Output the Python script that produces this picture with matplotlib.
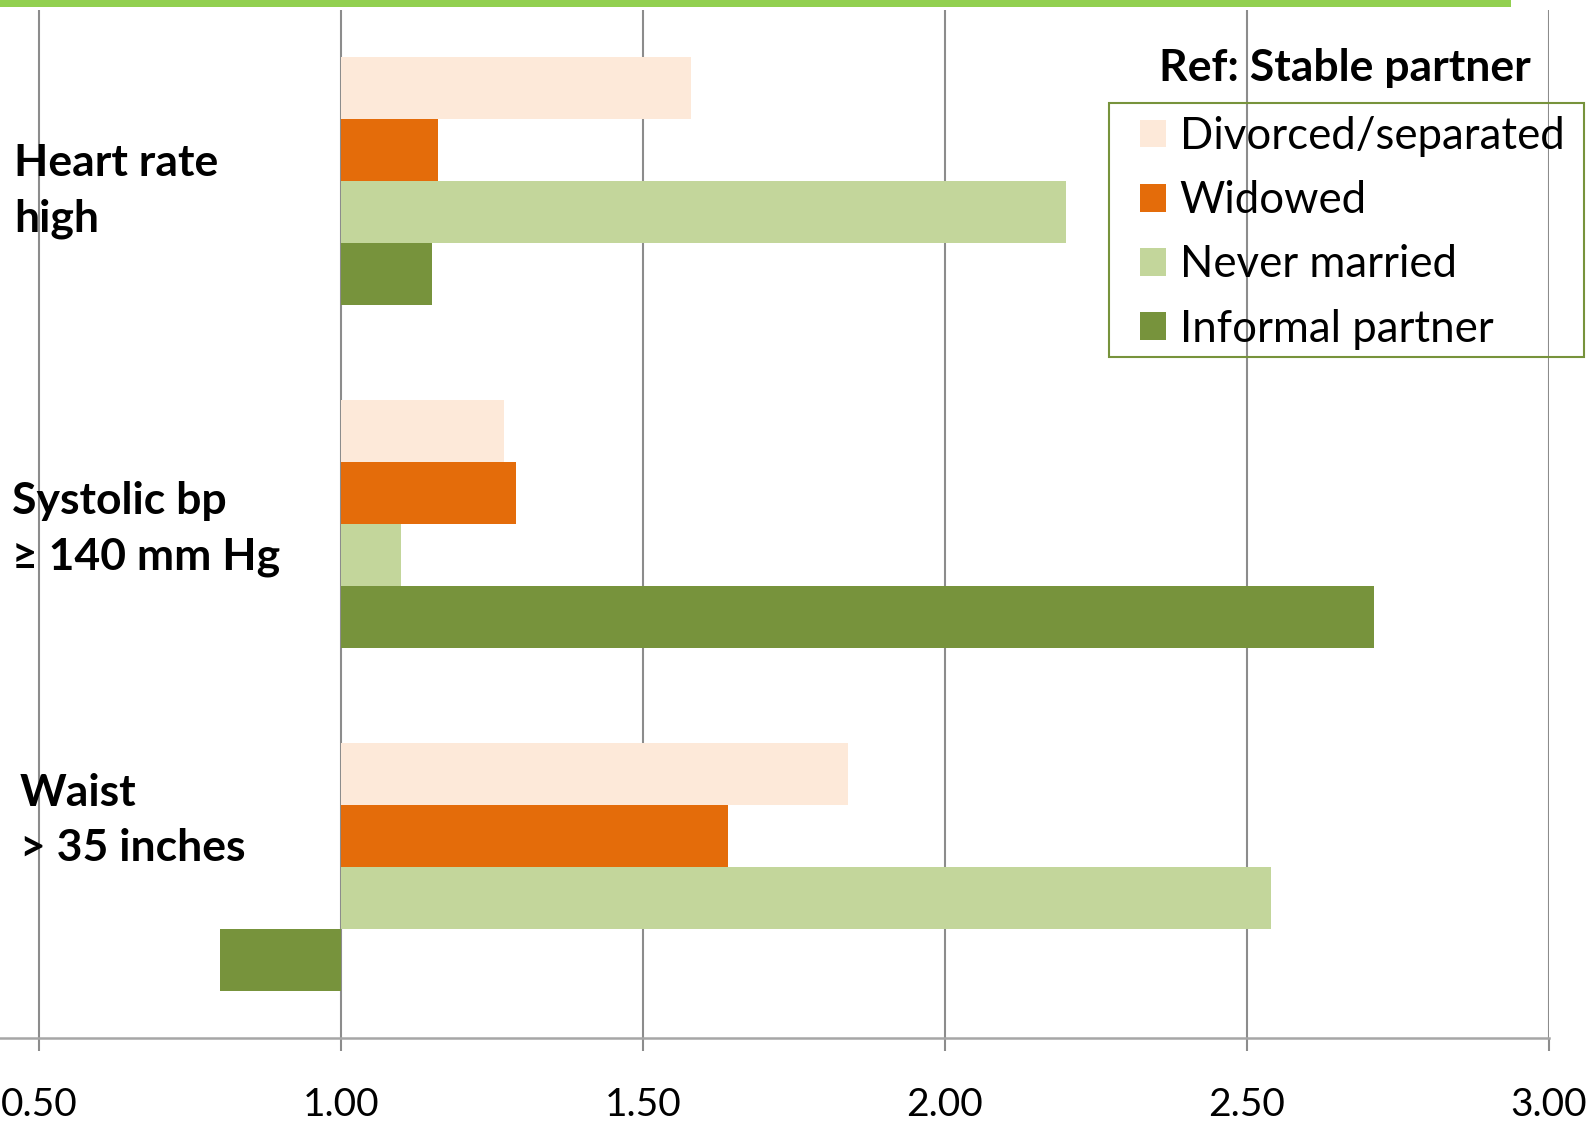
import matplotlib.pyplot as plt
from matplotlib.patches import Rectangle
from matplotlib.transforms import blended_transform_factory
import numpy as np

# odds ratios vs. stable partner, one list per marital status
categories = ["Heart rate\nhigh", "Systolic bp\n≥ 140 mm Hg", "Waist\n> 35 inches"]
series = ["Divorced/separated", "Widowed", "Never married", "Informal partner"]
divorced = [1.58, 1.27, 1.84]
widowed = [1.16, 1.29, 1.64]
never_married = [2.20, 1.10, 2.54]
informal = [1.15, 2.71, 0.80]
ticks = [0.5, 1.0, 1.5, 2.0, 2.5, 3.0]
ref_value = 1.0
legend_title = "Ref: Stable partner"

colors = ["#FDE9D9", "#E46C0A", "#C3D69B", "#77933C"]
grid_col = "#8C8C8C"

plt.rcParams['font.family'] = ['Lato', 'DejaVu Sans']

W, H = 1595, 1124
fig = plt.figure(figsize=(W / 100, H / 100), dpi=100)
ax = fig.add_axes([0, 1 - 1038 / H, 1549 / W, (1038 - 10) / H])

y = np.arange(len(categories))
bar_h = 0.181
for i, (vals, name, col) in enumerate(zip([divorced, widowed, never_married, informal], series, colors)):
    vals = np.asarray(vals)
    ax.barh(y + (i - 1.5) * bar_h, vals - ref_value, left=ref_value, height=bar_h,
            color=col, label=name, zorder=2)

ax.set_xlim(0.5 - 39 / 604, 3.0)
ax.set_ylim(len(categories) - 0.5, -0.5)

ax.set_axisbelow(True)
ax.xaxis.grid(True, color=grid_col, lw=1.5)
for s in ("left", "top", "right"):
    ax.spines[s].set_visible(False)
ax.spines["bottom"].set_color("#A6A6A6")
ax.spines["bottom"].set_linewidth(1.8)

ax.set_xticks(ticks)
ax.set_xticklabels([f"{t:.2f}" for t in ticks])
ax.tick_params(axis="x", length=9.5, width=1.5, color=grid_col, pad=26, labelsize=28)
ax.set_yticks([])

# category names sit inside the plot area on the left
trans = blended_transform_factory(fig.transFigure, ax.transData)
label_x = [14, 12, 20]
label_dy = [0.028, 0.014, -0.135]
for i, cat in enumerate(categories):
    ax.text(label_x[i] / W, y[i] + label_dy[i], cat, transform=trans, ha="left", va="center",
            fontsize=32, fontweight="bold", linespacing=1.46)

# legend entries without their own frame; the box is drawn separately
leg = ax.legend(loc="upper left", bbox_to_anchor=(1140 / W, 1 - 116 / H), bbox_transform=fig.transFigure,
                fontsize=31.5, frameon=False, borderaxespad=0, borderpad=0,
                handlelength=0.6, handleheight=0.6, handletextpad=0.31, labelspacing=0.53)
fig.add_artist(Rectangle((1109 / W, 1 - 357 / H), (1584 - 1109) / W, (357 - 103) / H,
                         transform=fig.transFigure, fill=False, edgecolor="#77933C", lw=1.5))

fig.text(1345 / W, 1 - 68 / H, legend_title, ha="center", va="center", fontsize=32, fontweight="bold")

# green rule along the top edge
fig.add_artist(Rectangle((0, 1 - 7 / H), 1511 / W, 7 / H, transform=fig.transFigure,
                         color="#92D050", lw=0))

fig.savefig("out.png", dpi=100)
